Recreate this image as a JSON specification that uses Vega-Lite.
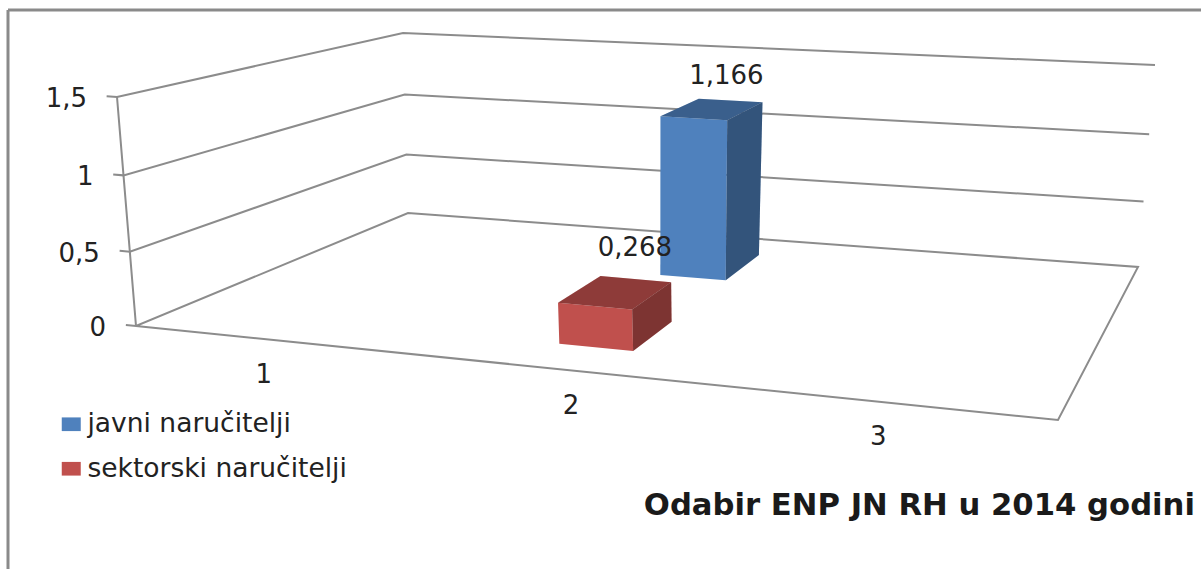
{
"$schema":"https://vega.github.io/schema/vega-lite/v6.json",
"width":1201,"height":569,"padding":0,"autosize":"none","background":"white",
"title":{"text":"Odabir ENP JN RH u 2014 godini","orient":"top","anchor":"end","frame":"group","offset":0,"dy":522,"dx":-6,"font":"DejaVu Sans","fontSize":30.7,"fontWeight":"bold","color":"#1a1a1a"},
"config":{"view":{"stroke":null}},
"datasets":{
"bars":[{"category":2,"series":"javni naručitelji","value":1.166},{"category":2,"series":"sektorski naručitelji","value":0.268}],
"levels":[{"value":0},{"value":0.5},{"value":1},{"value":1.5}],
"categories":[{"category":1},{"category":2},{"category":3}]
},
"layer":[
{"data":{"values":[{}]},"mark":{"type":"rule","stroke":"#8a8a8a","strokeWidth":3},"encoding":{"x":{"datum":8,"scale":{"domain":[0,1201]},"axis":null},"y":{"datum":10,"scale":{"domain":[569,0]},"axis":null},"y2":{"datum":569}}},
{"data":{"values":[{}]},"mark":{"type":"rule","stroke":"#8a8a8a","strokeWidth":3},"encoding":{"x":{"datum":8,"scale":{"domain":[0,1201]},"axis":null},"x2":{"datum":1201},"y":{"datum":10,"scale":{"domain":[569,0]},"axis":null}}},
{"data":{"name":"levels"},
"transform":[
{"calculate":"datum.value===0?[{i:0,u:-0.011,w:0},{i:1,u:0,w:0},{i:2,u:0,w:1},{i:3,u:1,w:1},{i:4,u:1,w:0},{i:5,u:0,w:0}]:[{i:0,u:-0.011,w:0},{i:1,u:0,w:0},{i:2,u:0,w:1},{i:3,u:1,w:1}]","as":"pts"},
{"flatten":["pts"]},
{"calculate":"datum.pts.u","as":"u"},{"calculate":"datum.pts.w","as":"w"},{"calculate":"datum.pts.i","as":"i"},{"calculate":"datum.value/1.5","as":"t"},{"calculate":"datum.t-0.04*datum.t*(1-datum.t)","as":"v"},
{"calculate":"(1-datum.w)*((1-datum.u)*(136-19*datum.v)+datum.u*(1058+3*datum.v))+datum.w*((1-datum.u)*(408-5*datum.v)+datum.u*(1138+17*datum.v))","as":"px"},
{"calculate":"(1-datum.w)*((1-datum.u)*(326-229*datum.v)+datum.u*(420-251*datum.v))+datum.w*((1-datum.u)*(213-180*datum.v)+datum.u*(267-202*datum.v))","as":"py"}
],
"mark":{"type":"line","stroke":"#8c8c8c","strokeWidth":2,"strokeJoin":"miter"},
"encoding":{"x":{"field":"px","type":"quantitative","scale":{"domain":[0,1201]},"axis":null},"y":{"field":"py","type":"quantitative","scale":{"domain":[569,0]},"axis":null},"detail":{"field":"value"},"order":{"field":"i"}}},
{"data":{"name":"levels"},
"transform":[{"calculate":"datum.value/1.5","as":"t"},{"calculate":"datum.t-0.04*datum.t*(1-datum.t)","as":"v"},{"calculate":"136-19*datum.v","as":"px"},{"calculate":"326-229*datum.v","as":"py"}],
"mark":{"type":"line","stroke":"#8c8c8c","strokeWidth":2},
"encoding":{"x":{"field":"px","type":"quantitative","scale":{"domain":[0,1201]},"axis":null},"y":{"field":"py","type":"quantitative","scale":{"domain":[569,0]},"axis":null},"order":{"field":"value"}}},
{"data":{"name":"levels"},
"transform":[{"calculate":"datum.value/1.5","as":"t"},{"calculate":"datum.t-0.04*datum.t*(1-datum.t)","as":"v"},{"calculate":"136-19*datum.v","as":"px"},{"calculate":"326-229*datum.v","as":"py"},{"calculate":"replace(toString(datum.value),'.',',')","as":"label"}],
"mark":{"type":"text","font":"DejaVu Sans","fontSize":26,"align":"right","baseline":"middle","dx":-30,"dy":2,"fill":"#222222"},
"encoding":{"x":{"field":"px","type":"quantitative","scale":{"domain":[0,1201]},"axis":null},"y":{"field":"py","type":"quantitative","scale":{"domain":[569,0]},"axis":null},"text":{"field":"label"}}},
{"data":{"name":"categories"},
"transform":[{"calculate":"(datum.category-0.5)/3","as":"u"},{"calculate":"136+datum.u*922","as":"px"},{"calculate":"326+datum.u*94","as":"py"}],
"mark":{"type":"text","font":"DejaVu Sans","fontSize":26,"align":"center","baseline":"middle","dx":-26,"dy":33,"fill":"#222222"},
"encoding":{"x":{"field":"px","type":"quantitative","scale":{"domain":[0,1201]},"axis":null},"y":{"field":"py","type":"quantitative","scale":{"domain":[569,0]},"axis":null},"text":{"field":"category"}}},
{"data":{"name":"bars"},
"transform":[
{"calculate":"datum.series==='javni naručitelji'?0.7:0.17","as":"w0"},
{"calculate":"datum.series==='javni naručitelji'?0.89:0.39","as":"w1"},
{"calculate":"0.424","as":"u0"},{"calculate":"0.507","as":"u1"},
{"calculate":"[{face:'front',i:0,u:datum.u0,w:datum.w0,h:0},{face:'front',i:1,u:datum.u1,w:datum.w0,h:0},{face:'front',i:2,u:datum.u1,w:datum.w0,h:1},{face:'front',i:3,u:datum.u0,w:datum.w0,h:1},{face:'side',i:0,u:datum.u1,w:datum.w0,h:0},{face:'side',i:1,u:datum.u1,w:datum.w1,h:0},{face:'side',i:2,u:datum.u1,w:datum.w1,h:1},{face:'side',i:3,u:datum.u1,w:datum.w0,h:1},{face:'top',i:0,u:datum.u0,w:datum.w0,h:1},{face:'top',i:1,u:datum.u1,w:datum.w0,h:1},{face:'top',i:2,u:datum.u1,w:datum.w1,h:1},{face:'top',i:3,u:datum.u0,w:datum.w1,h:1}]","as":"corners"},
{"flatten":["corners"]},
{"calculate":"datum.corners.face","as":"face"},{"calculate":"datum.corners.i","as":"i"},{"calculate":"datum.corners.u","as":"u"},{"calculate":"datum.corners.w","as":"w"},
{"calculate":"datum.corners.h*datum.value/1.5","as":"v"},
{"calculate":"(1-datum.w)*((1-datum.u)*(136-19*datum.v)+datum.u*(1058+3*datum.v))+datum.w*((1-datum.u)*(408-5*datum.v)+datum.u*(1138+17*datum.v))","as":"px"},
{"calculate":"(1-datum.w)*((1-datum.u)*(326-229*datum.v)+datum.u*(420-251*datum.v))+datum.w*((1-datum.u)*(213-180*datum.v)+datum.u*(267-202*datum.v))","as":"py"}
],
"layer":[
{"mark":{"type":"line","strokeWidth":0,"interpolate":"linear-closed"},
"encoding":{"x":{"field":"px","type":"quantitative","scale":{"domain":[0,1201]},"axis":null},"y":{"field":"py","type":"quantitative","scale":{"domain":[569,0]},"axis":null},
"fill":{"field":"series","type":"nominal","scale":{"domain":["javni naručitelji","sektorski naručitelji"],"range":["#4f81bd","#c0504d"]},
"legend":{"title":null,"orient":"none","legendX":58,"legendY":411,"symbolType":"M-1,-0.72H1V0.72H-1Z","symbolSize":361,"symbolStrokeWidth":0,"labelFont":"DejaVu Sans","labelFontSize":26.5,"labelLimit":500,"labelColor":"#222222","rowPadding":17.5,"labelOffset":3}},
"detail":{"field":"face"},"order":{"field":"i"}}},
{"transform":[{"filter":"datum.face!=='front'"}],
"mark":{"type":"line","strokeWidth":0,"fill":"#000000","interpolate":"linear-closed"},
"encoding":{"x":{"field":"px","type":"quantitative","scale":{"domain":[0,1201]},"axis":null},"y":{"field":"py","type":"quantitative","scale":{"domain":[569,0]},"axis":null},
"fillOpacity":{"field":"face","type":"nominal","scale":{"domain":["top","side"],"range":[0.26,0.35]},"legend":null},
"detail":{"field":"series"},"order":{"field":"i"}}}
]},
{"data":{"name":"bars"},
"transform":[
{"calculate":"datum.series==='javni naručitelji'?0.85:0.41","as":"w"},{"calculate":"datum.series==='javni naručitelji'?0.47:0.46","as":"u"},{"calculate":"datum.value/1.5","as":"v"},
{"calculate":"(1-datum.w)*((1-datum.u)*(136-19*datum.v)+datum.u*(1058+3*datum.v))+datum.w*((1-datum.u)*(408-5*datum.v)+datum.u*(1138+17*datum.v))","as":"px"},
{"calculate":"(1-datum.w)*((1-datum.u)*(326-229*datum.v)+datum.u*(420-251*datum.v))+datum.w*((1-datum.u)*(213-180*datum.v)+datum.u*(267-202*datum.v))","as":"py"},
{"calculate":"replace(format(datum.value,'.3f'),'.',',')","as":"label"}
],
"mark":{"type":"text","font":"DejaVu Sans","fontSize":26,"align":"center","baseline":"middle","dy":-28,"fill":"#222222"},
"encoding":{"x":{"field":"px","type":"quantitative","scale":{"domain":[0,1201]},"axis":null},"y":{"field":"py","type":"quantitative","scale":{"domain":[569,0]},"axis":null},"text":{"field":"label"}}}
]
}
